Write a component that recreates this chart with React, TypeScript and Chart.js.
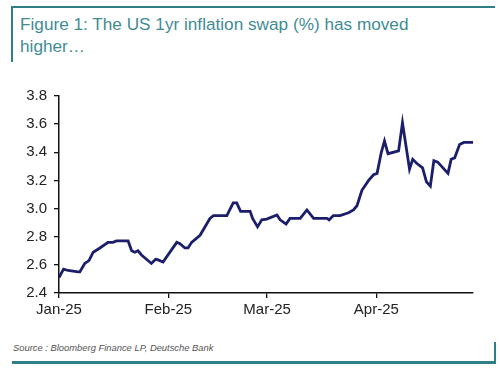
import React, { useEffect, useRef } from "react";
import { Chart, registerables } from "chart.js";

Chart.register(...registerables);

// Days since 1 Jan 2025
const dayOffsets: number[] = [
  0, 1.3, 2.6, 5.4, 5.9, 7.3, 8.5, 9.7, 11.6, 13.9, 15.3, 16.3, 19.6, 20.6, 21.5, 22.4, 23.4,
  26.2, 27.4, 28.1, 29.5, 33.4, 34.3, 35.7, 36.6, 37.6, 40.0, 42.8, 43.8, 47.6, 49.4, 50.4,
  51.5, 54.2, 54.9, 56.3, 57.5, 58.9, 61.8, 62.7, 64.4, 65.5, 68.4, 70.3, 72.2, 76.0, 76.6,
  77.8, 79.7, 82.1, 83.5, 84.5, 85.9, 87.8, 89.2, 90.2, 91.4, 92.3, 93.3, 96.3, 97.4, 99.4,
  100.3, 101.5, 103.1, 104.2, 105.3, 106.3, 107.4, 110.3, 111.2, 112.2, 113.6, 114.8, 117.4,
];
const swapValues: number[] = [
  2.51, 2.57, 2.56, 2.55, 2.55, 2.61, 2.63, 2.69, 2.72, 2.76, 2.76, 2.77, 2.77, 2.70, 2.69,
  2.70, 2.67, 2.61, 2.64, 2.635, 2.62, 2.76, 2.75, 2.72, 2.72, 2.76, 2.81, 2.93, 2.95, 2.95,
  3.04, 3.04, 2.98, 2.98, 2.93, 2.87, 2.92, 2.925, 2.955, 2.92, 2.89, 2.93, 2.93, 2.99, 2.93,
  2.93, 2.92, 2.95, 2.95, 2.97, 2.99, 3.02, 3.13, 3.20, 3.24, 3.25, 3.40, 3.48, 3.39, 3.41,
  3.61, 3.28, 3.35, 3.32, 3.29, 3.19, 3.16, 3.34, 3.33, 3.25, 3.35, 3.36, 3.455, 3.47, 3.47,
];
const monthTickDays: number[] = [0, 31, 59, 90];
const monthTickLabels: string[] = ["Jan-25", "Feb-25", "Mar-25", "Apr-25"];
const yMin = 2.4;
const yMax = 3.8;
const yStep = 0.2;

const titleText = "Figure 1: The US 1yr inflation swap (%) has moved higher\u2026";
const sourceText = "Source : Bloomberg Finance LP, Deutsche Bank";

export default function App() {
  const canvasRef = useRef<HTMLCanvasElement | null>(null);

  useEffect(() => {
    if (!canvasRef.current) return;
    const chart = new Chart(canvasRef.current, {
      type: "line",
      data: {
        datasets: [
          {
            data: dayOffsets.map((d, i) => ({ x: d, y: swapValues[i] })),
            borderColor: "#1b1f6b",
            borderWidth: 2.8,
            pointRadius: 0,
            tension: 0,
            fill: false,
          },
        ],
      },
      options: {
        animation: false,
        responsive: false,
        maintainAspectRatio: false,
        layout: { padding: { top: 13, right: 27, left: 0, bottom: 0 } },
        plugins: { legend: { display: false }, tooltip: { enabled: false } },
        scales: {
          x: {
            type: "linear",
            min: 0,
            max: dayOffsets[dayOffsets.length - 1],
            afterBuildTicks: (scale: any) => {
              scale.ticks = monthTickDays.map((v) => ({ value: v }));
            },
            afterFit: (scale: any) => {
              scale.height = 37;
            },
            ticks: {
              autoSkip: false,
              maxRotation: 0,
              padding: 3,
              color: "#222",
              font: { family: "Liberation Sans", size: 15 },
              callback: (v: any) => {
                const idx = monthTickDays.indexOf(Number(v));
                return idx >= 0 ? monthTickLabels[idx] : "";
              },
            },
            grid: { display: true, drawOnChartArea: false, tickLength: 5, color: "#111", lineWidth: 1.3 },
            border: { display: true, color: "#111", width: 1.5 },
          },
          y: {
            min: yMin,
            max: yMax,
            afterFit: (scale: any) => {
              scale.width = 59;
            },
            ticks: {
              stepSize: yStep,
              padding: 7,
              color: "#222",
              font: { family: "Liberation Sans", size: 15 },
              callback: (v: any) => Number(v).toFixed(1),
            },
            grid: { display: true, drawOnChartArea: false, tickLength: 5, color: "#111", lineWidth: 1.3 },
            border: { display: true, color: "#111", width: 1.5 },
          },
        },
      },
    });
    return () => chart.destroy();
  }, []);

  const teal = "#2f7f86";
  return (
    <div style={{ position: "fixed", left: 0, top: 0, width: 500, height: 370, background: "#fff", overflow: "hidden" }}>
      <div style={{ position: "absolute", left: 12, top: 6, width: 483, height: 2, background: teal }} />
      <div style={{ position: "absolute", left: 11, top: 6, width: 2, height: 56, background: teal }} />
      <div
        style={{
          position: "absolute",
          left: 20,
          top: 13,
          width: 440,
          fontFamily: "Liberation Sans, Arial, sans-serif",
          fontSize: 17.2,
          lineHeight: "22px",
          color: "#3f8c93",
        }}
      >
        {titleText}
      </div>
      <canvas
        ref={canvasRef}
        width={500}
        height={250}
        style={{ position: "absolute", left: 0, top: 80, width: 500, height: 250 }}
      />
      <div
        style={{
          position: "absolute",
          left: 13,
          top: 342,
          fontFamily: "Liberation Sans, Arial, sans-serif",
          fontSize: 9.4,
          fontStyle: "italic",
          color: "#555",
          whiteSpace: "nowrap",
        }}
      >
        {sourceText}
      </div>
      <div style={{ position: "absolute", left: 12, top: 361, width: 484, height: 2.5, background: teal }} />
      <div style={{ position: "absolute", left: 494, top: 342, width: 2, height: 21, background: teal }} />
    </div>
  );
}
